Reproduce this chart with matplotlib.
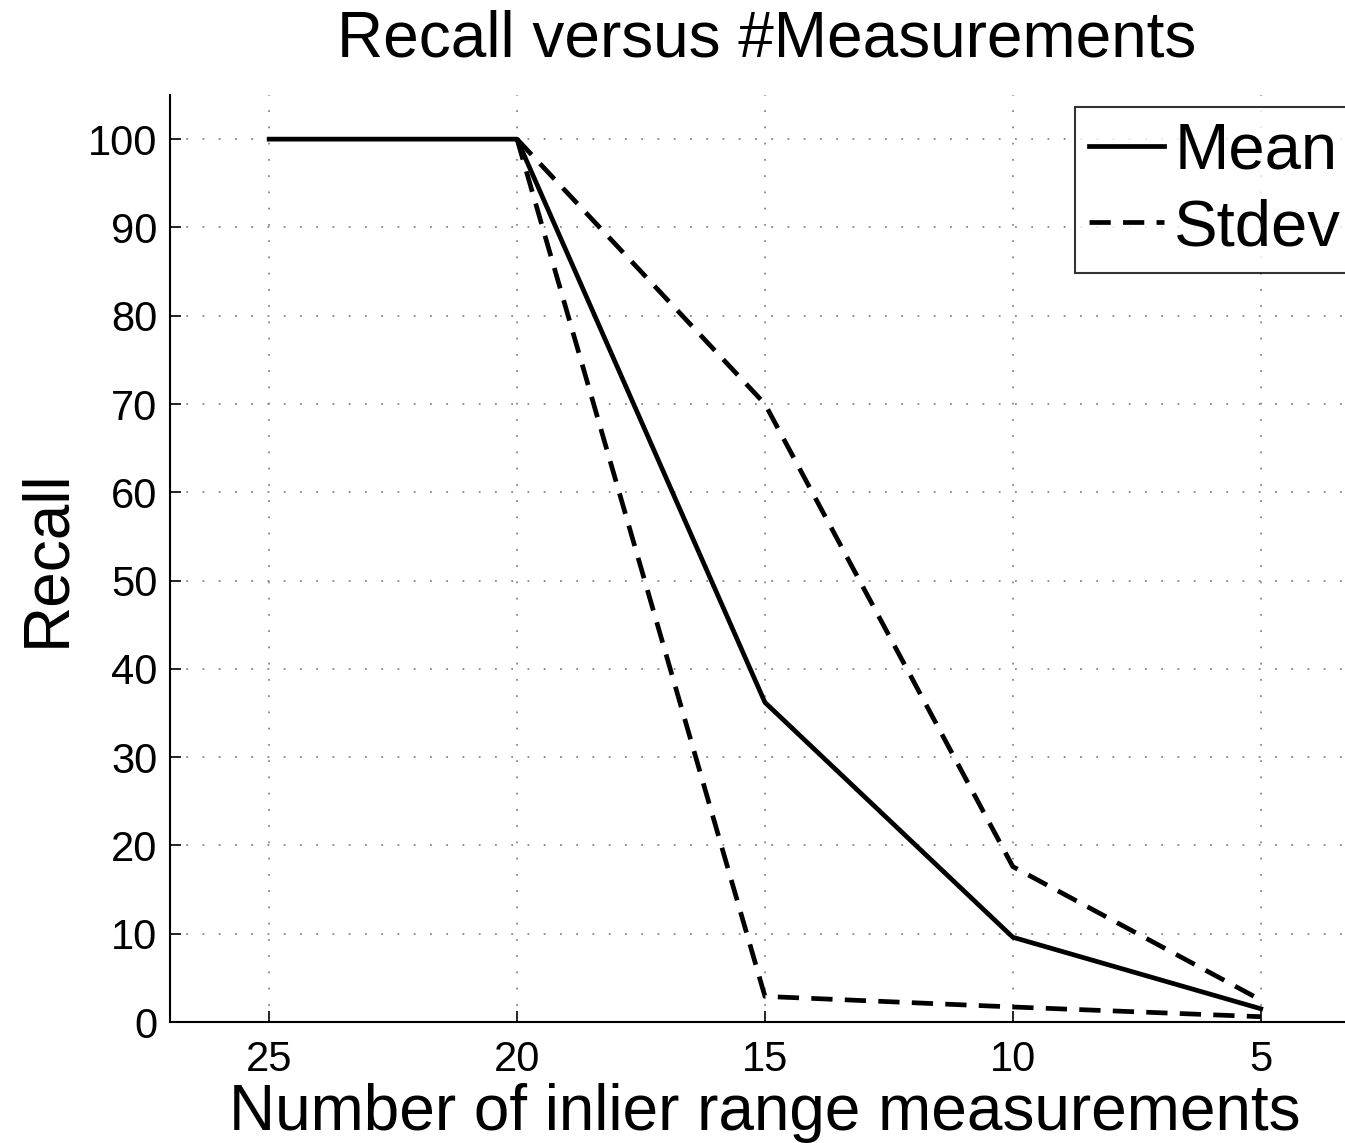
import matplotlib
matplotlib.use("Agg")
import matplotlib.pyplot as plt

plt.rcParams['font.family'] = ['Liberation Sans', 'DejaVu Sans']

measurements = [25, 20, 15, 10, 5]
mean_recall = [100, 100, 36.2, 9.6, 1.5]
upper_x = [20, 15, 10, 5]
upper_recall = [100, 70, 17.6, 2.5]
lower_x = [20, 15, 10, 5]
lower_recall = [100, 2.9, 1.7, 0.6]
xticks = [25, 20, 15, 10, 5]
yticks = [0, 10, 20, 30, 40, 50, 60, 70, 80, 90, 100]

fig = plt.figure(figsize=(13.45, 11.43), dpi=100)
ax = fig.add_axes([170/1345, 1-1022/1143, 1-170/1345, (1022-95)/1143])

dash = (0, (4.5, 2.6))
ax.plot(measurements, mean_recall, color='black', lw=3.4, label='Mean')
ax.plot(upper_x, upper_recall, color='black', lw=3.4, ls=dash, label='Stdev')
ax.plot(lower_x, lower_recall, color='black', lw=3.4, ls=dash)

ax.set_xlim(27, 3.3)
ax.set_ylim(0, 105)
ax.set_xticks(xticks)
ax.set_yticks(yticks)
ax.tick_params(direction='in', labelsize=30, length=8, width=1.2)
ax.tick_params(axis='x', pad=13)
ax.tick_params(axis='y', pad=9)
ax.grid(True, color='#888888', ls=(0, (1, 8)), lw=1.3)
ax.spines['top'].set_visible(False)
ax.spines['right'].set_visible(False)
for s in ('left', 'bottom'):
    ax.spines[s].set_linewidth(1.5)

ax.set_title('Recall versus #Measurements', fontsize=46, pad=28, x=0.508)
ax.set_xlabel('Number of inlier range measurements', fontsize=46, labelpad=2)
ax.xaxis.set_label_coords(0.506, -0.066)
ax.xaxis.label.set_va('top')
ax.set_ylabel('Recall', fontsize=46, labelpad=8)

leg = ax.legend(loc='upper left', bbox_to_anchor=(1075/1345, 1-107/1143),
                bbox_transform=fig.transFigure, fontsize=47, frameon=True,
                fancybox=False, edgecolor='black', handlelength=1.15,
                handletextpad=0.15, borderpad=0.22, labelspacing=0.26,
                borderaxespad=0)
leg.get_frame().set_linewidth(1.5)

fig.savefig('out.png', dpi=100)
